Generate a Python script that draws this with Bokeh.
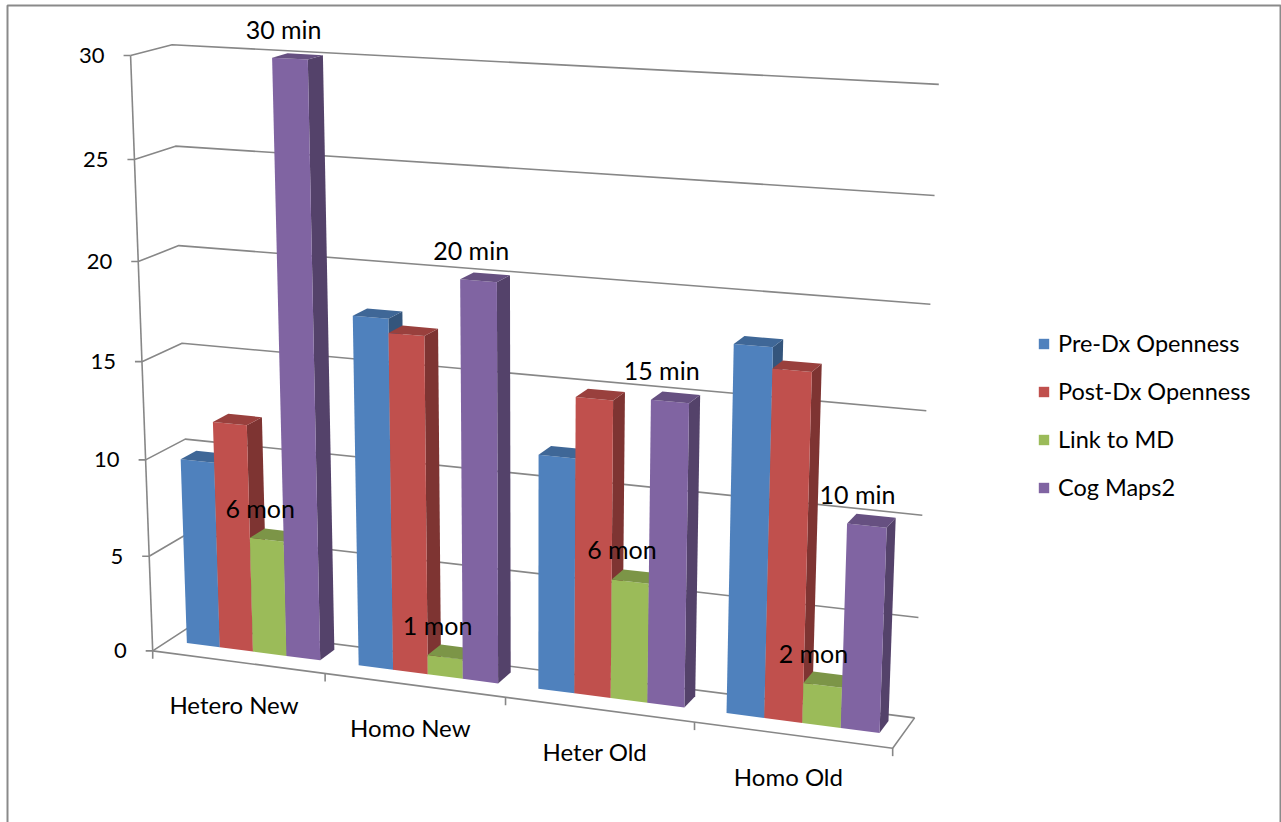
import numpy as np
from bokeh.plotting import figure
from bokeh.models import Range1d, Legend, LegendItem, ColumnDataSource
from bokeh.core.properties import value
from bokeh.embed import file_html
from bokeh.resources import INLINE

# ---------------- data ----------------
categories = ["Hetero New", "Homo New", "Heter Old", "Homo Old"]
series_names = ["Pre-Dx Openness", "Post-Dx Openness", "Link to MD", "Cog Maps2"]
pre_dx = [9.7, 17.8, 11.8, 18]
post_dx = [11.8, 17.1, 14.8, 17]
link_md = [6, 1, 6, 2]
cog_maps = [30, 20, 15, 10]
link_labels = ["6 mon", "1 mon", "6 mon", "2 mon"]
cog_labels = ["30 min", "20 min", "15 min", "10 min"]
y_ticks = [0, 5, 10, 15, 20, 25, 30]

series_values = [pre_dx, post_dx, link_md, cog_maps]
front_colors = ["#4F81BD", "#C0504D", "#9BBB59", "#8064A2"]

# ---------------- 3-D frame calibration (world -> screen pixels) ----------------
# world: X = category position (0..4), Y = value (0..30), Z = depth (0 front, 1 back)
calib_world = [
    (0, 0, 0), (0, 5, 0), (0, 10, 0), (0, 15, 0), (0, 20, 0), (0, 25, 0), (0, 30, 0),
    (0, 0, 1), (0, 5, 1), (0, 10, 1), (0, 15, 1), (0, 20, 1), (0, 25, 1), (0, 30, 1),
    (4, 0, 1), (4, 5, 1), (4, 10, 1), (4, 15, 1), (4, 20, 1), (4, 25, 1), (4, 30, 1),
    (4, 0, 0), (1, 0, 0), (2, 0, 0), (3, 0, 0),
]
calib_screen = [
    (153, 649), (149, 555), (146, 458), (142, 361), (138, 261), (133, 159), (129, 56),
    (190, 628), (188, 533), (185, 438), (182, 342), (178, 245), (175, 146), (172, 44),
    (913, 715), (918, 617), (922, 515), (926, 410), (931, 303), (934, 196), (938, 84),
    (893, 747), (324, 673), (505, 697), (693, 725),
]


def fit_projection(world_pts, image_pts):
    W = np.asarray(world_pts, float)
    I = np.asarray(image_pts, float)
    wm = W.mean(0)
    ws = np.sqrt(3) / np.sqrt(((W - wm) ** 2).sum(1).mean())
    Tw = np.diag([ws, ws, ws, 1.0])
    Tw[:3, 3] = -ws * wm
    im = I.mean(0)
    si = np.sqrt(2) / np.sqrt(((I - im) ** 2).sum(1).mean())
    Ti = np.diag([si, si, 1.0])
    Ti[:2, 2] = -si * im
    Wn = (Tw @ np.c_[W, np.ones(len(W))].T).T
    In = (Ti @ np.c_[I, np.ones(len(I))].T).T
    rows = []
    for w, (u, v, _) in zip(Wn, In):
        rows.append(np.r_[w, np.zeros(4), -u * w])
        rows.append(np.r_[np.zeros(4), w, -v * w])
    _, _, vt = np.linalg.svd(np.array(rows))
    Pn = vt[-1].reshape(3, 4)
    return np.linalg.inv(Ti) @ Pn @ Tw


P = fit_projection(calib_world, calib_screen)


def proj(X, Y, Z):
    h = P @ np.array([X, Y, Z, 1.0])
    return h[0] / h[2], h[1] / h[2]


def shade(hex_color, f):
    r, g, b = (int(hex_color[i:i + 2], 16) for i in (1, 3, 5))
    return "#%02x%02x%02x" % (int(r * f), int(g * f), int(b * f))


# bar geometry (world units)
GAP_HALF = 0.11
BAR_W = 0.195
Z_FRONT = 0.40
Z_BACK = 0.80
X_MAX = len(categories)
Y_MAX = max(y_ticks)

W_PX, H_PX = 1281, 822
p = figure(width=W_PX, height=H_PX, x_range=Range1d(0, W_PX), y_range=Range1d(H_PX, 0),
           output_backend="svg", toolbar_location=None, x_axis_type=None, y_axis_type=None,
           min_border=0, outline_line_color=None, background_fill_color="white")
p.xgrid.visible = False
p.ygrid.visible = False

GRID = "#878787"

# chart border
p.line([7, 7, 1280, 1280], [830, 5, 5, 830], line_color="#8a8a8a", line_width=2)

# walls: back-wall gridlines and side-wall gridlines
xs, ys = [], []
for t in y_ticks:
    a = proj(0, t, 1); b = proj(X_MAX, t, 1); c = proj(0, t, 0)
    xs.append([c[0], a[0], b[0]]); ys.append([c[1], a[1], b[1]])
    xs.append([c[0], c[0] - 7]); ys.append([c[1], c[1]])   # tick
# value axis line
a = proj(0, 0, 0); b = proj(0, Y_MAX, 0)
xs.append([a[0], b[0]]); ys.append([a[1], b[1]])
# floor front edge and right edge
f0 = proj(0, 0, 0); f1 = proj(X_MAX, 0, 0); f2 = proj(X_MAX, 0, 1)
xs.append([f0[0], f1[0], f2[0]]); ys.append([f0[1], f1[1], f2[1]])
for k in range(X_MAX + 1):
    q = proj(k, 0, 0)
    xs.append([q[0], q[0]]); ys.append([q[1], q[1] + 8])
p.multi_line(xs, ys, line_color=GRID, line_width=1.6)

FONT = value("Lato")
# value tick labels
tx, ty, tt = [], [], []
for t in y_ticks:
    q = proj(0, t, 0)
    tx.append(q[0] - 26); ty.append(q[1]); tt.append(str(t))
p.text(tx, ty, text=tt, text_font=FONT, text_font_size=value("22px"), text_align="right",
       text_baseline="middle", text_color="black")

# category labels
cx, cy = [], []
for i, _ in enumerate(categories):
    q = proj(i + 0.5, 0, 0)
    cx.append(q[0] - 4); cy.append(q[1] + 42)
p.text(cx, cy, text=categories, text_font=FONT, text_font_size=value("24px"), text_align="center",
       text_baseline="middle", text_color="black")

# bars
legend_items = []
for j, (name, vals, col) in enumerate(zip(series_names, series_values, front_colors)):
    fr = dict(xs=[], ys=[]); sd = dict(xs=[], ys=[]); tp = dict(xs=[], ys=[])
    for i, v in enumerate(vals):
        x0 = i + GAP_HALF + j * BAR_W
        x1 = x0 + BAR_W
        face_front = [proj(x0, 0, Z_FRONT), proj(x1, 0, Z_FRONT), proj(x1, v, Z_FRONT), proj(x0, v, Z_FRONT)]
        face_side = [proj(x1, 0, Z_FRONT), proj(x1, 0, Z_BACK), proj(x1, v, Z_BACK), proj(x1, v, Z_FRONT)]
        face_top = [proj(x0, v, Z_FRONT), proj(x1, v, Z_FRONT), proj(x1, v, Z_BACK), proj(x0, v, Z_BACK)]
        for d, face in ((fr, face_front), (sd, face_side), (tp, face_top)):
            d["xs"].append([pt[0] for pt in face]); d["ys"].append([pt[1] for pt in face])
    p.patches("xs", "ys", source=ColumnDataSource(sd), fill_color=shade(col, 0.66), line_color=None)
    r = p.patches("xs", "ys", source=ColumnDataSource(fr), fill_color=col, line_color=None)
    p.patches("xs", "ys", source=ColumnDataSource(tp), fill_color=shade(col, 0.8), line_color=None)
    legend_items.append(LegendItem(label=name, renderers=[r]))

# data labels above "Link to MD" and "Cog Maps2"
lx, ly, lt = [], [], []
for j, vals, labels in ((2, link_md, link_labels), (3, cog_maps, cog_labels)):
    for i, (v, lab) in enumerate(zip(vals, labels)):
        xc = i + GAP_HALF + (j + 0.5) * BAR_W
        q = proj(xc, v, (Z_FRONT + Z_BACK) / 2)
        lx.append(q[0] - 14); ly.append(q[1] - 27); lt.append(lab)
p.text(lx, ly, text=lt, text_font=FONT, text_font_size=value("25px"), text_align="center",
       text_baseline="middle", text_color="black")

legend = Legend(items=legend_items, location=(1037, 320),
                label_text_font="Lato", label_text_font_size="23.5px", label_text_color="black",
                glyph_width=13, glyph_height=13, label_standoff=8, label_height=30,
                spacing=18, padding=0, margin=0, border_line_color=None,
                background_fill_alpha=0)
p.add_layout(legend, "center")

open("out.html", "w").write(file_html(p, INLINE))
